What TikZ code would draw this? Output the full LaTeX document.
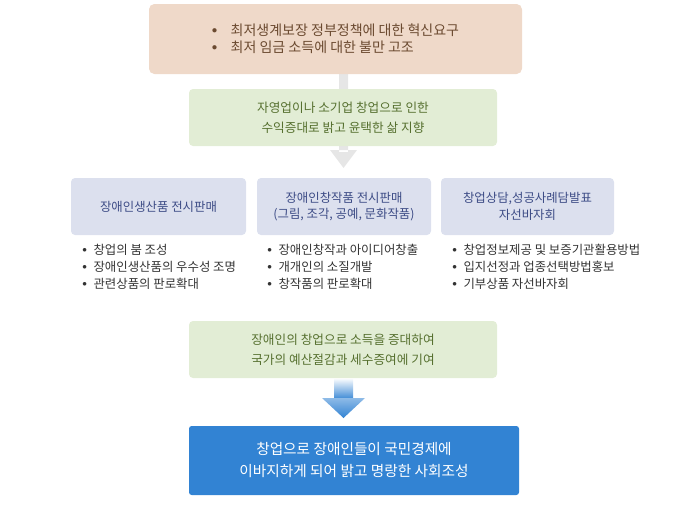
\documentclass[tikz,border=0pt]{standalone}
\usepackage{fontspec}
\setmainfont{Noto Sans CJK KR}
\usetikzlibrary{positioning}
\definecolor{peach}{HTML}{EFD9C9}
\definecolor{peachtext}{HTML}{6B4A30}
\definecolor{leaf}{HTML}{E2EDD5}
\definecolor{leaftext}{HTML}{56702F}
\definecolor{lilac}{HTML}{DCE0EE}
\definecolor{lilactext}{HTML}{3D4C86}
\definecolor{deepblue}{HTML}{3283D3}
\definecolor{lightgray}{HTML}{E6E6E6}
\definecolor{listtext}{HTML}{333333}
\newcommand{\listdot}{\raisebox{0.32ex}{\scalebox{0.75}{$\bullet$}}}
\begin{document}
\begin{tikzpicture}[x=0.75pt,y=-0.75pt,
causebox/.style={rounded corners=4pt, fill=peach, text=peachtext, font=\fontsize{10.5}{13}\selectfont},
goalbox/.style={rounded corners=3pt, fill=leaf, text=leaftext, align=center, font=\fontsize{9.5}{15}\selectfont},
actbox/.style={rounded corners=3pt, fill=lilac, text=lilactext, align=center, font=\fontsize{9.3}{12.5}\selectfont},
listnode/.style={text=listtext, align=left, anchor=north west, inner sep=0pt, font=\fontsize{9.3}{12.75}\selectfont},
]
\useasboundingbox (0,0) rectangle (690,507);
%Connectors
\fill[lightgray] (339,74) rectangle (348,152) (330,150) -- (357,150) -- (343.5,168) -- cycle;
\shade[top color=white, bottom color=deepblue] (334,378) rectangle (353,400);
\shade[top color=deepblue!55, bottom color=deepblue] (322,398) -- (365,398) -- (343.5,418) -- cycle;
%Boxes
\fill[causebox] (149,4) rectangle (522,74);
\node[text=peachtext, align=left, font=\fontsize{10.5}{13}\selectfont] (cause) at (335.5,39)
  {\listdot\hspace{10pt}최저생계보장 정부정책에 대한 혁신요구\\ \listdot\hspace{10pt}최저 임금 소득에 대한 불만 고조};
\fill[goalbox] (189,89) rectangle (497,146);
\node[goalbox, fill=none] (income) at (343,117.5) {자영업이나 소기업 창업으로 인한\\수익증대로 밝고 윤택한 삶 지향};
\foreach \x/\y/\name/\txt in {71/246/goods/장애인생산품 전시판매,
    257/431/arts/{장애인창작품 전시판매\\(그림, 조각, 공예, 문화작품)},
    441/614/advice/{창업상담,성공사례담발표\\자선바자회}}{
  \fill[actbox] (\x,178) rectangle (\y,235);
  \node[actbox, fill=none] (\name) at ({(\x+\y)/2},206.5) {\txt};
}
\node[listnode] (goodslist) at (82,244) {\listdot\hspace{5pt}창업의 붐 조성\\\listdot\hspace{5pt}장애인생산품의 우수성 조명\\\listdot\hspace{5pt}관련상품의 판로확대};
\node[listnode] (artslist) at (267,244) {\listdot\hspace{5pt}장애인창작과 아이디어창출\\\listdot\hspace{5pt}개개인의 소질개발\\\listdot\hspace{5pt}창작품의 판로확대};
\node[listnode] (advicelist) at (452,244) {\listdot\hspace{5pt}창업정보제공 및 보증기관활용방법\\\listdot\hspace{5pt}입지선정과 업종선택방법홍보\\\listdot\hspace{5pt}기부상품 자선바자회};
\fill[goalbox] (189,321) rectangle (497,378);
\node[goalbox, fill=none] (budget) at (343,349.5) {장애인의 창업으로 소득을 증대하여\\국가의 예산절감과 세수증여에 기여};
\fill[deepblue, rounded corners=2pt] (189,426) rectangle (519,495);
\node[text=white, align=center, font=\fontsize{11}{16.5}\selectfont] (society) at (354,460) {창업으로 장애인들이 국민경제에\\이바지하게 되어 밝고 명랑한 사회조성};
\end{tikzpicture}
\end{document}
